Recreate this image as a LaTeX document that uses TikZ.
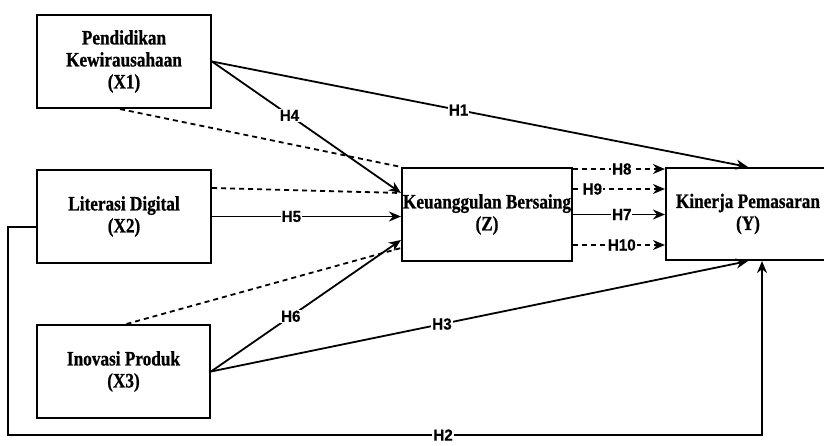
\documentclass[tikz,border=0pt]{standalone}
\usepackage{fontspec}
\usetikzlibrary{arrows.meta,calc}
\newfontfamily\boxfont[FakeStretch=0.84,FakeBold=0.8]{Liberation Serif}
\newfontfamily\labfont[FakeStretch=0.95,FakeBold=0.3]{Liberation Sans}
\begin{document}
\begin{tikzpicture}[x=1pt,y=-1pt,
  var/.style={draw,line width=2.1pt,rectangle,inner sep=0pt,align=center,
    font=\boxfont\bfseries\fontsize{20.5}{22}\selectfont},
  conn/.style={line width=1.8pt},
  arr/.style={conn,-{Stealth[length=12pt,width=10pt]}},
  dsh/.style={dash pattern=on 5pt off 4pt},
  hl/.style={fill=white,inner sep=1pt,font=\labfont\bfseries\fontsize{16}{16}\selectfont}]
\useasboundingbox (0,0) rectangle (824,445);
\node[var,minimum width=174pt,minimum height=93pt] (X1) at (124,61.5) {Pendidikan\\Kewirausahaan\\(X1)};
\node[var,minimum width=174pt,minimum height=93pt] (X2) at (124,216.5) {Literasi Digital\\(X2)};
\node[var,minimum width=173pt,minimum height=93pt] (X3) at (123.5,371.5) {Inovasi Produk\\(X3)};
\node[var,minimum width=170pt,minimum height=93pt] (Z) at (487,214.5) {Keuanggulan Bersaing\\(Z)};
\node[var,minimum width=164pt,minimum height=92pt] (Y) at (748,214) {Kinerja Pemasaran\\(Y)};
% dashed (no head) lines into Z
\draw[conn,dsh] ([xshift=-4pt]X1.south) -- (Z.north west);
\draw[conn,dsh] ([yshift=28.5pt]X2.east) -- ([yshift=21.5pt]Z.west);
\draw[conn,dsh] ([xshift=3pt]X3.north) -- ([yshift=-33.5pt]Z.west);
% direct paths
\draw[arr] (X1.east) -- node[hl,pos=0.46] {H1} (Y.north);
\draw[arr] (X1.east) -- node[hl,pos=0.41] {H4} ([yshift=21.5pt]Z.west);
\draw[arr] (X2.east) -- node[hl,pos=0.42] {H5} (X2.east -| Z.west);
\draw[arr] (X3.east) -- node[hl,pos=0.42] {H6} ([yshift=-25.5pt]Z.west);
\draw[arr] (X3.east) -- node[hl,pos=0.43] {H3} (Y.south);
% Z to Y
\draw[arr,dsh] ([yshift=45.5pt]Z.east) -- node[hl,pos=0.53] {H8} ([yshift=45.5pt]Z.east -| Y.west);
\draw[arr,dsh] ([yshift=25.5pt]Z.east) -- node[hl,pos=0.21] {H9} ([yshift=25.5pt]Z.east -| Y.west);
\draw[arr] (Z.east) -- node[hl,pos=0.53] {H7} (Z.east -| Y.west);
\draw[arr,dsh] ([yshift=-30.5pt]Z.east) -- node[hl,pos=0.53] {H10} ([yshift=-30.5pt]Z.east -| Y.west);
% H2
\coordinate (L) at (8,435);
\coordinate (YS) at ([xshift=14pt]Y.south);
\draw[arr] ([yshift=-10.5pt]X2.west) -| (L) -- node[hl,pos=0.577] {H2} (L -| YS) -- (YS);
\end{tikzpicture}
\end{document}
